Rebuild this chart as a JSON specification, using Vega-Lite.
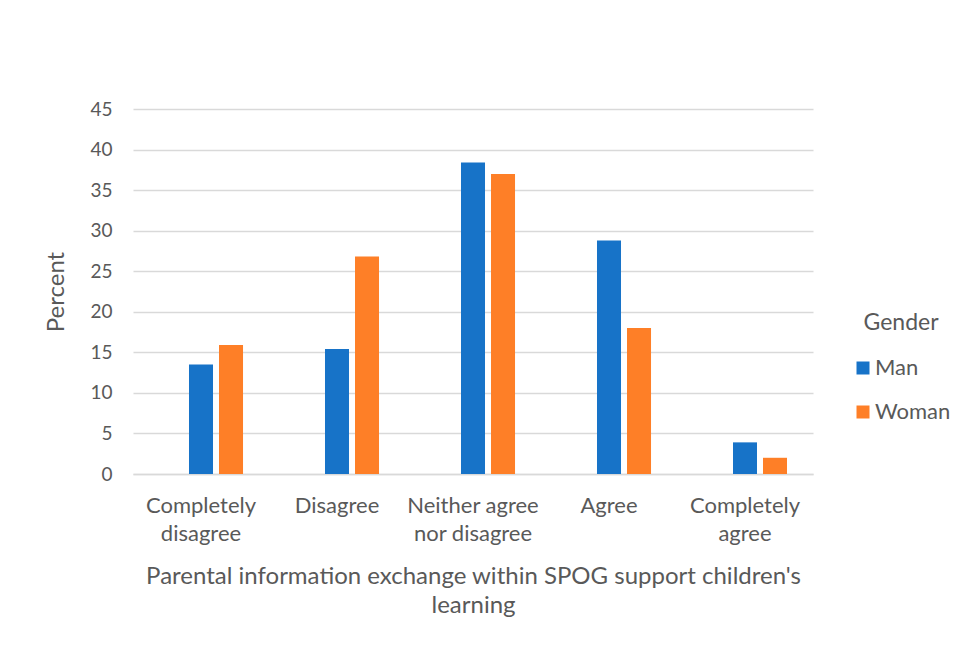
{
  "$schema": "https://vega.github.io/schema/vega-lite/v6.json",
  "width": 680,
  "height": 365,
  "autosize": {"type": "none"},
  "padding": {"left": 133, "top": 109, "right": 161, "bottom": 175},
  "background": "white",
  "config": {
    "view": {"stroke": null},
    "font": "Lato",
    "axis": {"labelColor": "#595959", "titleColor": "#595959", "labelFont": "Lato", "titleFont": "Lato", "titleFontWeight": "normal"},
    "legend": {"labelColor": "#595959", "titleColor": "#595959", "labelFont": "Lato", "titleFont": "Lato", "titleFontWeight": "normal"}
  },
  "data": {
    "values": [
      {"response": "Completely disagree", "Gender": "Man", "percent": 13.5},
      {"response": "Completely disagree", "Gender": "Woman", "percent": 15.9},
      {"response": "Disagree", "Gender": "Man", "percent": 15.4},
      {"response": "Disagree", "Gender": "Woman", "percent": 26.8},
      {"response": "Neither agree nor disagree", "Gender": "Man", "percent": 38.4},
      {"response": "Neither agree nor disagree", "Gender": "Woman", "percent": 37.0},
      {"response": "Agree", "Gender": "Man", "percent": 28.8},
      {"response": "Agree", "Gender": "Woman", "percent": 18.0},
      {"response": "Completely agree", "Gender": "Man", "percent": 3.9},
      {"response": "Completely agree", "Gender": "Woman", "percent": 2.0}
    ]
  },
  "mark": {"type": "bar"},
  "encoding": {
    "x": {
      "field": "response",
      "type": "nominal",
      "sort": ["Completely disagree", "Disagree", "Neither agree nor disagree", "Agree", "Completely agree"],
      "scale": {"paddingInner": 0.382, "paddingOuter": 0.191},
      "axis": {
        "title": ["Parental information exchange within SPOG support children's", "learning"],
        "titleFontSize": 24,
        "titleLineHeight": 29,
        "titlePadding": 20,
        "labelAngle": 0,
        "labelFontSize": 22,
        "labelLineHeight": 28,
        "labelPadding": 21,
        "labelExpr": "datum.value=='Completely disagree'?['Completely','disagree']:datum.value=='Neither agree nor disagree'?['Neither agree','nor disagree']:datum.value=='Completely agree'?['Completely','agree']:datum.value",
        "ticks": false,
        "domain": true,
        "domainColor": "#d9d9d9",
        "domainWidth": 1.5,
        "grid": false
      }
    },
    "xOffset": {
      "field": "Gender",
      "type": "nominal",
      "scale": {"domain": ["", "Man", "Woman"], "paddingInner": 0.2, "paddingOuter": 0}
    },
    "y": {
      "field": "percent",
      "type": "quantitative",
      "scale": {"domain": [0, 45], "nice": false},
      "axis": {
        "title": "Percent",
        "titleFontSize": 24,
        "titlePadding": 21,
        "labelFontSize": 19,
        "labelPadding": 21,
        "values": [0, 5, 10, 15, 20, 25, 30, 35, 40, 45],
        "labelOverlap": false,
        "ticks": false,
        "domain": false,
        "grid": true,
        "gridColor": "#d9d9d9",
        "gridWidth": 1.5
      }
    },
    "color": {
      "field": "Gender",
      "type": "nominal",
      "scale": {"domain": ["Man", "Woman"], "range": ["#1773c8", "#fe7f27"]},
      "legend": {
        "title": "Gender",
        "orient": "none",
        "legendX": 719,
        "legendY": 203,
        "titleFontSize": 23,
        "titlePadding": 22,
        "titleAnchor": "middle",
        "labelFontSize": 22,
        "symbolType": "square",
        "symbolSize": 169,
        "symbolStrokeWidth": 0,
        "rowPadding": 22,
        "labelOffset": 1
      }
    }
  }
}
